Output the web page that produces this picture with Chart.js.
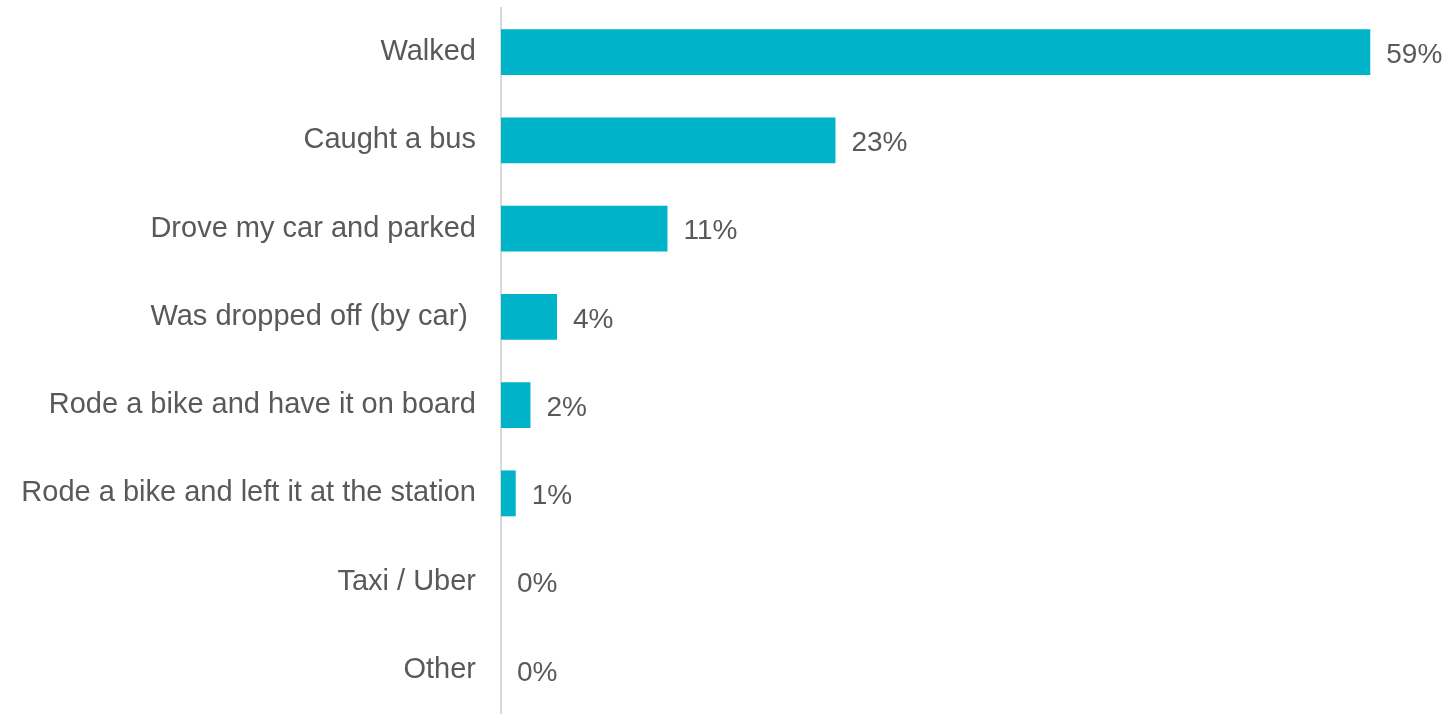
<!DOCTYPE html>
<html>
<head>
<meta charset="utf-8">
<script src="https://cdn.jsdelivr.net/npm/chart.js@4"></script>
<style>
  html, body { margin: 0; padding: 0; background: #fff; }
  #wrap { width: 1450px; height: 714px; position: relative; }
</style>
</head>
<body>
<div id="wrap"><canvas id="modeChart"></canvas></div>
<script>
const categories = [
  'Walked',
  'Caught a bus',
  'Drove my car and parked',
  'Was dropped off (by car) ',
  'Rode a bike and have it on board',
  'Rode a bike and left it at the station',
  'Taxi / Uber',
  'Other'
];
const shares = [59, 22.7, 11.3, 3.8, 2.0, 1.0, 0, 0];
const shareLabels = ['59%', '23%', '11%', '4%', '2%', '1%', '0%', '0%'];

const textColor = '#595959';
const fontFamily = '"Liberation Sans", Arial, sans-serif';

const valueLabels = {
  id: 'valueLabels',
  afterDatasetsDraw(chart) {
    const ctx = chart.ctx;
    const meta = chart.getDatasetMeta(0);
    ctx.save();
    ctx.font = '28px ' + fontFamily;
    ctx.fillStyle = textColor;
    ctx.textAlign = 'left';
    ctx.textBaseline = 'middle';
    meta.data.forEach((bar, i) => {
      ctx.fillText(shareLabels[i], bar.x + 16, bar.y + 3);
    });
    ctx.restore();
  }
};

const ctx = document.getElementById('modeChart').getContext('2d');
new Chart(ctx, {
  type: 'bar',
  data: {
    labels: categories,
    datasets: [{
      data: shares,
      backgroundColor: '#00b3c8',
      borderWidth: 0,
      barPercentage: 0.52,
      categoryPercentage: 1
    }]
  },
  options: {
    indexAxis: 'y',
    responsive: true,
    maintainAspectRatio: false,
    animation: false,
    layout: { padding: { top: 8, right: 65, bottom: 0, left: 0 } },
    plugins: {
      legend: { display: false },
      tooltip: { enabled: false }
    },
    scales: {
      x: {
        display: false,
        min: 0,
        max: 60
      },
      y: {
        afterFit(scale) {
          scale.width = 501;
          scale.paddingTop = 0;
          scale.paddingBottom = 0;
        },
        grid: { display: false, drawTicks: false },
        border: { display: true, color: '#d9d9d9', width: 2 },
        ticks: {
          padding: 25,
          color: textColor,
          font: { family: fontFamily, size: 29 }
        }
      }
    }
  },
  plugins: [valueLabels]
});
</script>
</body>
</html>
